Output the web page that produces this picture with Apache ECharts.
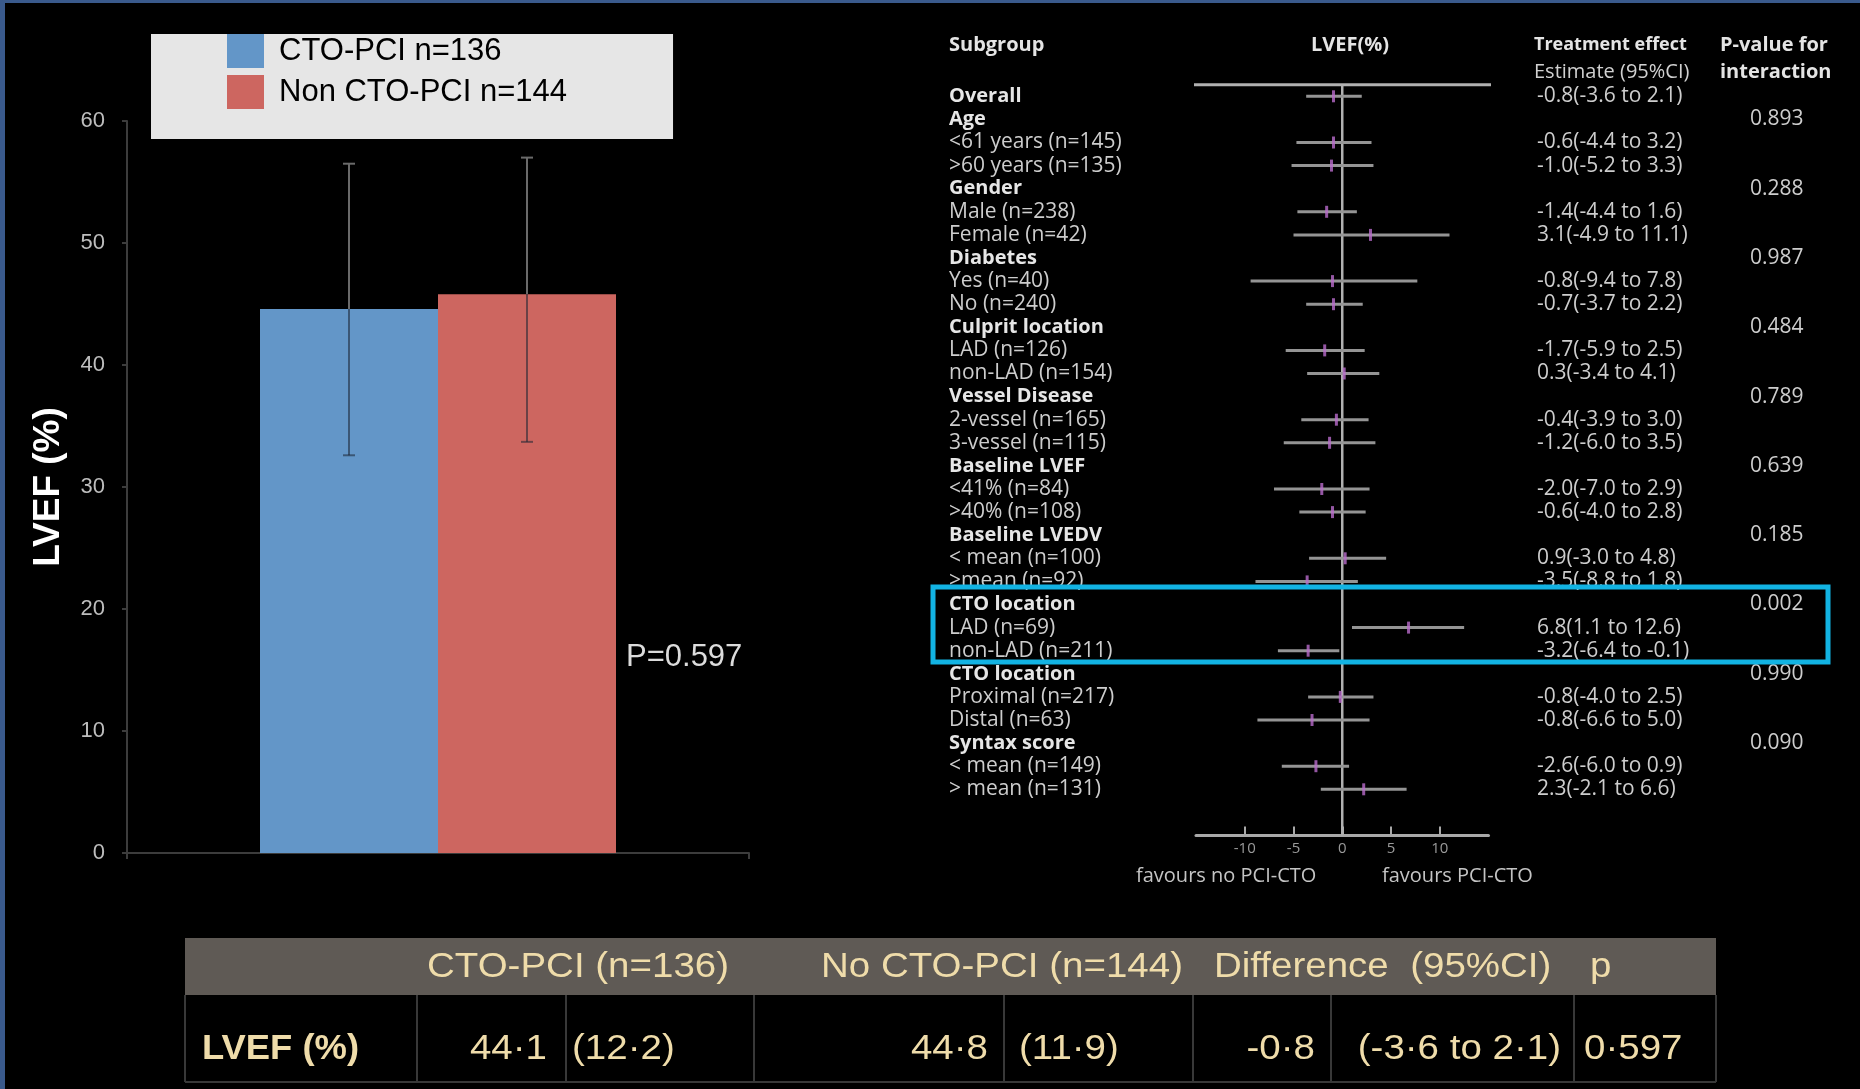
<!DOCTYPE html>
<html><head><meta charset="utf-8">
<script src="https://cdn.jsdelivr.net/npm/echarts@6/dist/echarts.min.js"></script>
<style>html,body{margin:0;padding:0;background:#000;}#c{width:1860px;height:1089px;}</style>
</head><body><div id="c"></div>
<script>
// ---------- Bar chart data ----------
const barCategories = ['LVEF'];
const barSeriesNames = ['CTO-PCI n=136', 'Non CTO-PCI n=144'];
const barMeans = [44.6, 45.8];
const barErrHigh = [56.5, 57.0];
const barErrLow = [32.6, 33.7];
const barColors = ['#6396c8', '#cd6660'];
const pValueText = 'P=0.597';

// ---------- Forest plot data ----------
const forestRows = ['Overall','Age','<61 years (n=145)','>60 years (n=135)','Gender','Male (n=238)','Female (n=42)',
  'Diabetes','Yes (n=40)','No (n=240)','Culprit location','LAD (n=126)','non-LAD (n=154)','Vessel Disease',
  '2-vessel (n=165)','3-vessel (n=115)','Baseline LVEF','<41% (n=84)','>40% (n=108)','Baseline LVEDV',
  '< mean (n=100)','>mean (n=92)','CTO location','LAD (n=69)','non-LAD (n=211)','CTO location',
  'Proximal (n=217)','Distal (n=63)','Syntax score','< mean (n=149)','> mean (n=131)'];
const forestBoldRows = [0,1,4,7,10,13,16,19,22,25,28];
const forestEst = [-0.9,null,-0.9,-1.1,null,-1.6,2.9,null,-1.0,-0.9,null,-1.8,0.2,null,-0.6,-1.3,null,-2.1,-1.0,null,0.3,-3.6,null,6.8,-3.5,null,-0.2,-3.1,null,-2.7,2.2];
const forestLo  = [-3.7,null,-4.7,-5.2,null,-4.6,-5.0,null,-9.4,-3.7,null,-5.8,-3.6,null,-4.2,-6.0,null,-7.0,-4.4,null,-3.4,-8.9,null,1.0,-6.6,null,-3.5,-8.7,null,-6.2,-2.2];
const forestHi  = [2.0,null,3.0,3.2,null,1.5,11.0,null,7.7,2.1,null,2.3,3.8,null,2.7,3.4,null,2.8,2.4,null,4.5,1.6,null,12.5,-0.3,null,3.2,2.8,null,0.7,6.6];
const forestEstText = ['-0.8(-3.6 to 2.1)','','-0.6(-4.4 to 3.2)','-1.0(-5.2 to 3.3)','','-1.4(-4.4 to 1.6)','3.1(-4.9 to 11.1)',
  '','-0.8(-9.4 to 7.8)','-0.7(-3.7 to 2.2)','','-1.7(-5.9 to 2.5)','0.3(-3.4 to 4.1)','','-0.4(-3.9 to 3.0)','-1.2(-6.0 to 3.5)',
  '','-2.0(-7.0 to 2.9)','-0.6(-4.0 to 2.8)','','0.9(-3.0 to 4.8)','-3.5(-8.8 to 1.8)','','6.8(1.1 to 12.6)','-3.2(-6.4 to -0.1)',
  '','-0.8(-4.0 to 2.5)','-0.8(-6.6 to 5.0)','','-2.6(-6.0 to 0.9)','2.3(-2.1 to 6.6)'];
const forestPText = ['','0.893','','','0.288','','','0.987','','','0.484','','','0.789','','','0.639','','','0.185','','',
  '0.002','','','0.990','','','0.090','',''];
const forestTicks = [-10,-5,0,5,10];
const forestZeroLine = [[0,-0.5],[0,32]];
const forestTopLine = [[-16.5,-0.5],[16.5,-0.5]];
const forestHeaders = ['Subgroup','LVEF(%)','Treatment effect','Estimate (95%CI)','P-value for','interaction'];
const forestFavours = ['favours no PCI-CTO','favours PCI-CTO'];

// ---------- Table data ----------
const tableHeader = ['CTO-PCI (n=136)','No CTO-PCI (n=144)','Difference  (95%CI)','p'];
const tableRow = ['LVEF (%)','44·1','(12·2)','44·8','(11·9)','-0·8','(-3·6 to 2·1)','0·597'];

// ---------- build ----------
const BAR_W = 178;
const errData = barMeans.map((m,k)=>[0, m, barErrHigh[k], barErrLow[k], k]);
const ciData = [], ptData = [];
forestRows.forEach((r,i)=>{ if (forestEst[i]!==null){ ciData.push([forestLo[i], forestHi[i], i]); ptData.push([forestEst[i], i]); }});

const OS = '"Open Sans", sans-serif';
const LS = '"Liberation Sans", Arial, sans-serif';
function rowLabel(arr){ return v => { if (v!==Math.round(v) || v<0 || v>=arr.length) return ''; return arr[v]; }; }

const graphic = [
  {type:'rect', shape:{x:0,y:0,width:1860,height:3}, style:{fill:'#3a5a8c'}, silent:true},
  {type:'rect', shape:{x:0,y:0,width:5,height:1089}, style:{fill:'#3a5a8c'}, silent:true},
  {type:'text', x:626, y:657, style:{text:pValueText, font:'31px '+LS, fill:'#dcdcdc', align:'left', verticalAlign:'middle'}},
  // forest header
  {type:'text', x:949, y:45, style:{text:forestHeaders[0], font:'bold 20px '+OS, fill:'#e4e4e4', align:'left', verticalAlign:'middle'}},
  {type:'text', x:1350, y:45, style:{text:forestHeaders[1], font:'bold 20px '+OS, fill:'#e4e4e4', align:'center', verticalAlign:'middle'}},
  {type:'text', x:1534, y:45, style:{text:forestHeaders[2], font:'bold 18px '+OS, fill:'#e4e4e4', align:'left', verticalAlign:'middle'}},
  {type:'text', x:1534, y:72, style:{text:forestHeaders[3], font:'20px '+OS, fill:'#d0d0d0', align:'left', verticalAlign:'middle'}},
  {type:'text', x:1720, y:45, style:{text:forestHeaders[4], font:'bold 20px '+OS, fill:'#e4e4e4', align:'left', verticalAlign:'middle'}},
  {type:'text', x:1720, y:72, style:{text:forestHeaders[5], font:'bold 20px '+OS, fill:'#e4e4e4', align:'left', verticalAlign:'middle'}},
  {type:'text', x:1136, y:876, style:{text:forestFavours[0], font:'20px '+OS, fill:'#c4c4c4', align:'left', verticalAlign:'middle'}},
  {type:'text', x:1382, y:876, style:{text:forestFavours[1], font:'20px '+OS, fill:'#c4c4c4', align:'left', verticalAlign:'middle'}},
  // highlight box
  {type:'rect', z:100, shape:{x:933,y:587,width:895,height:75}, style:{fill:null, stroke:'#12b3e3', lineWidth:5}},
  // table
  {type:'rect', shape:{x:185,y:938,width:1531,height:57}, style:{fill:'#5f5a55'}},
];
[185,417,566,754,1004,1193,1331,1574,1716].forEach(x=>graphic.push({type:'line', shape:{x1:x,y1:995,x2:x,y2:1082}, style:{stroke:'#383838', lineWidth:2}}));
graphic.push({type:'line', shape:{x1:185,y1:1082,x2:1716,y2:1082}, style:{stroke:'#383838', lineWidth:2}});
const hdrPos = [427, 821, 1214, 1590];
tableHeader.forEach((t,i)=>graphic.push({type:'text', x:hdrPos[i], y:967, scaleX:1.1,
  style:{text:t, font:'35px '+LS, fill:'#efdcaa', align:'left', verticalAlign:'middle'}}));
const rowPos = [[202,'left'],[547,'right'],[572,'left'],[988,'right'],[1019,'left'],[1315,'right'],[1561,'right'],[1584,'left']];
tableRow.forEach((t,i)=>graphic.push({type:'text', x:rowPos[i][0], y:1049, scaleX: i===0?1.04:1.1,
  style:{text:t, font:(i===0?'bold ':'')+'35px '+LS, fill:'#efdcaa', align:rowPos[i][1], verticalAlign:'middle'}}));

const option = {
  backgroundColor:'#000',
  animation:false,
  legend:{
    data:barSeriesNames, orient:'vertical', left:151, top:34, itemWidth:37, itemHeight:34, itemGap:7,
    icon:'rect', backgroundColor:'#e6e6e6', padding:[0,106,30,76], borderRadius:0,
    textStyle:{color:'#000', fontSize:31, fontFamily:LS, padding:[0,0,0,10]}
  },
  grid:[
    {left:127, top:121, width:622, height:732},
    {left:1196, top:73.2, width:292.5, height:762.3}
  ],
  xAxis:[
    {gridIndex:0, type:'category', data:barCategories,
     axisLine:{lineStyle:{color:'#3c3c3c', width:2}}, axisTick:{show:true, length:6, lineStyle:{color:'#3c3c3c', width:2}},
     axisLabel:{show:false}, splitLine:{show:false}},
    {gridIndex:1, type:'value', min:-15, max:15, interval:5, position:'bottom',
     axisLine:{onZero:false, lineStyle:{color:'#a8a8a8', width:3}},
     axisTick:{show:true, inside:true, length:9, customValues:forestTicks, lineStyle:{color:'#a8a8a8', width:2}},
     axisLabel:{customValues:forestTicks, formatter:v=>(Math.abs(v)===15?'':String(v)), color:'#9a9a9a', fontSize:15, fontFamily:OS, margin:6},
     splitLine:{show:false}}
  ],
  yAxis:[
    {gridIndex:0, type:'value', min:0, max:60, interval:10,
     name:'LVEF (%)', nameLocation:'middle', nameGap:60,
     nameTextStyle:{color:'#fff', fontSize:37, fontWeight:'bold', fontFamily:LS},
     axisLine:{show:true, lineStyle:{color:'#3c3c3c', width:2}},
     axisTick:{show:true, length:5, lineStyle:{color:'#3c3c3c', width:2}},
     axisLabel:{color:'#bdbdbd', fontSize:22, fontFamily:LS, margin:22},
     splitLine:{show:false}},
    {gridIndex:1, type:'value', inverse:true, min:-1, max:32, interval:1,
     axisLine:{show:false, onZero:false}, axisTick:{show:false}, splitLine:{show:false},
     axisLabel:{align:'left', margin:247, showMinLabel:true, showMaxLabel:true,
       formatter:v=>{ if (v!==Math.round(v)||v<0||v>=forestRows.length) return ''; return (forestBoldRows.indexOf(v)>=0?'{b|':'{n|')+forestRows[v]+'}'; },
       rich:{b:{fontFamily:OS, fontSize:20, fontWeight:'bold', color:'#e6e6e6'}, n:{fontFamily:OS, fontSize:21, color:'#cdcdcd'}}}},
    {gridIndex:1, type:'value', position:'right', inverse:true, min:-1, max:32, interval:1,
     axisLine:{show:false, onZero:false}, axisTick:{show:false}, splitLine:{show:false},
     axisLabel:{align:'left', margin:48.5, formatter:rowLabel(forestEstText), fontFamily:OS, fontSize:21, color:'#cdcdcd'}},
    {gridIndex:1, type:'value', position:'right', inverse:true, min:-1, max:32, interval:1,
     axisLine:{show:false, onZero:false}, axisTick:{show:false}, splitLine:{show:false},
     axisLabel:{align:'left', margin:261.5, formatter:rowLabel(forestPText), fontFamily:OS, fontSize:21, color:'#cdcdcd'}}
  ],
  series:[
    {name:barSeriesNames[0], type:'bar', xAxisIndex:0, yAxisIndex:0, data:[barMeans[0]], barWidth:BAR_W, barGap:'0%', itemStyle:{color:barColors[0]}},
    {name:barSeriesNames[1], type:'bar', xAxisIndex:0, yAxisIndex:0, data:[barMeans[1]], barWidth:BAR_W, barGap:'0%', itemStyle:{color:barColors[1]}},
    {type:'custom', xAxisIndex:0, yAxisIndex:0, z:5, data:errData, encode:{x:0, y:[1,2,3]},
     renderItem:(params, api)=>{
       const k = api.value(4);
       const base = api.coord([api.value(0), api.value(1)]);
       const x = base[0] + (k-0.5)*BAR_W;
       const yM = base[1], yH = api.coord([api.value(0), api.value(2)])[1], yL = api.coord([api.value(0), api.value(3)])[1];
       const up = {stroke:'#6a6a6a', lineWidth:2}, dn = {stroke:'rgba(25,35,50,0.55)', lineWidth:2};
       return {type:'group', children:[
         {type:'line', shape:{x1:x,y1:yH,x2:x,y2:yM}, style:up},
         {type:'line', shape:{x1:x-6,y1:yH,x2:x+6,y2:yH}, style:up},
         {type:'line', shape:{x1:x,y1:yM,x2:x,y2:yL}, style:dn},
         {type:'line', shape:{x1:x-6,y1:yL,x2:x+6,y2:yL}, style:dn}
       ]};
     }},
    {type:'line', xAxisIndex:1, yAxisIndex:1, data:forestZeroLine, showSymbol:false, symbol:'none', lineStyle:{color:'#b0b0b0', width:2.5}, z:1},
    {type:'line', xAxisIndex:1, yAxisIndex:1, data:forestTopLine, clip:false, showSymbol:false, symbol:'none', lineStyle:{color:'#b0b0b0', width:3}, z:1},
    {type:'custom', xAxisIndex:1, yAxisIndex:1, data:ciData, encode:{x:[0,1], y:2}, z:2,
     renderItem:(params, api)=>{
       const p1 = api.coord([api.value(0), api.value(2)]);
       const p2 = api.coord([api.value(1), api.value(2)]);
       return {type:'line', shape:{x1:p1[0],y1:p1[1],x2:p2[0],y2:p2[1]}, style:{stroke:'#949494', lineWidth:3}};
     }},
    {type:'scatter', xAxisIndex:1, yAxisIndex:1, data:ptData, symbol:'rect', symbolSize:[3,12], itemStyle:{color:'#b96ccc'}, z:3}
  ],
  graphic:graphic
};
const chart = echarts.init(document.getElementById('c'), null, {renderer:'canvas'});
chart.setOption(option);
</script></body></html>
